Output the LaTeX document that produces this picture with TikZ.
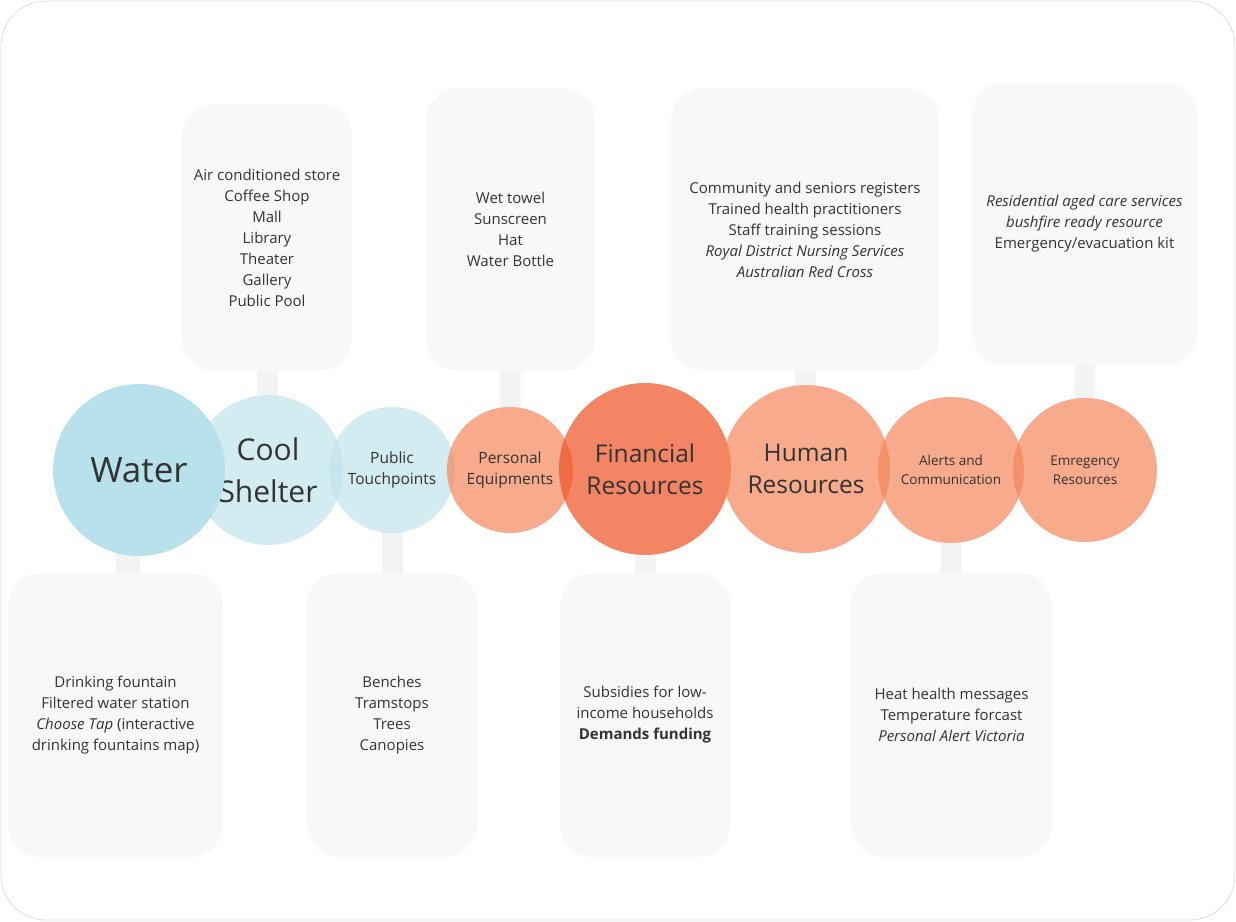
\documentclass[tikz,border=0pt]{standalone}
\usepackage{fontspec}
\setmainfont{Open Sans}
\usetikzlibrary{backgrounds}
\definecolor{txt}{HTML}{333333}
\definecolor{boxfill}{HTML}{F8F8F8}
\definecolor{stemcol}{HTML}{F2F4F4}
\definecolor{frame}{HTML}{DDDDDD}
\definecolor{waterc}{HTML}{B8E1EB}
\definecolor{bluec}{RGB}{192,228,236}
\definecolor{salmonc}{RGB}{245,135,92}
\definecolor{finc}{RGB}{239,82,36}
\tikzset{
  infobox/.style={fill=boxfill, rounded corners=32pt, inner sep=0pt, align=center, text=txt,
    font=\fontsize{15}{21}\selectfont},
  stem/.style={draw=stemcol, line width=21pt},
  bubble/.style={circle, inner sep=0pt, align=center, text=txt},
  bluebub/.style={bubble, fill=bluec, fill opacity=0.7, text opacity=1},
  salbub/.style={bubble, fill=salmonc, fill opacity=0.7, text opacity=1},
  finbub/.style={bubble, fill=finc, fill opacity=0.7, text opacity=1},
}
\begin{document}
\begin{tikzpicture}[x=1pt,y=-1pt]
\useasboundingbox (0,0) rectangle (1236,921);
\draw[frame, line width=0.8pt, rounded corners=45pt] (1,1) rectangle (1235,920);

% top boxes
\node[infobox, minimum width=170pt, minimum height=267pt] (b1) at (267,237.5)
  {Air conditioned store\\Coffee Shop\\Mall\\Library\\Theater\\Gallery\\Public Pool};
\node[infobox, minimum width=169pt, minimum height=283pt] (b2) at (510.5,229.5)
  {Wet towel\\Sunscreen\\Hat\\Water Bottle};
\node[infobox, minimum width=268pt, minimum height=283pt] (b3) at (805,229.5)
  {Community and seniors registers\\Trained health practitioners\\Staff training sessions\\\textit{Royal District Nursing Services}\\\textit{Australian Red Cross}};
\node[infobox, minimum width=225pt, minimum height=282pt] (b4) at (1084.5,224)
  {\textit{Residential aged care services}\\\textit{bushfire ready resource}\\Emergency/evacuation kit};
% bottom boxes
\node[infobox, minimum width=215pt, minimum height=284pt] (b5) at (115.5,715)
  {Drinking fountain\\Filtered water station\\\textit{Choose Tap} (interactive\\drinking fountains map)};
\node[infobox, minimum width=170pt, minimum height=284pt] (b6) at (392,715)
  {Benches\\Tramstops\\Trees\\Canopies};
\node[infobox, minimum width=170pt, minimum height=284pt] (b7) at (645,715)
  {Subsidies for low-\\income households\\\textbf{Demands funding}};
\node[infobox, minimum width=201pt, minimum height=284pt] (b8) at (951.5,715)
  {Heat health messages\\Temperature forcast\\\textit{Personal Alert Victoria}};

% bubbles
\node[bluebub, minimum size=150pt, font=\fontsize{30}{42}\selectfont] (cool) at (268,470) {Cool\\Shelter};
\node[bluebub, minimum size=126pt, font=\fontsize{15.5}{21}\selectfont] (pub) at (392,470) {Public\\Touchpoints};
\node[salbub, minimum size=126pt, font=\fontsize{15.5}{21}\selectfont] (pers) at (510,470) {Personal\\Equipments};
\node[finbub, minimum size=172pt, font=\fontsize{24.5}{32}\selectfont] (fin) at (645,469) {Financial\\Resources};
\node[salbub, minimum size=168pt, font=\fontsize{24.5}{32}\selectfont] (hum) at (806,469) {Human\\Resources};
\node[salbub, minimum size=146pt, font=\fontsize{13.5}{19}\selectfont] (alert) at (951,470) {Alerts and\\Communication};
\node[salbub, minimum size=144pt, font=\fontsize{13.5}{19}\selectfont] (emer) at (1085,470) {Emregency\\Resources};
\node[bubble, fill=waterc, minimum size=172pt, font=\fontsize{35}{40}\selectfont] (water) at (139,470) {Water};

\coordinate (ws) at (128,540);

% connectors
\begin{scope}[on background layer]
\draw[stem] (b1.center) -- (cool.center);
\draw[stem] (b2.center) -- (pers.center);
\draw[stem] (b3.center) -- (hum.center);
\draw[stem] (b4.center) -- (emer.center);
\draw[stem] (b6.center) -- (pub.center);
\draw[stem] (b7.center) -- (fin.center);
\draw[stem] (b8.center) -- (alert.center);
\draw[stem, line width=24pt, line cap=round] (ws) -- (ws |- b5.north);
% opaque white under the translucent bubbles so the stems do not show through
\fill[white] (cool.center) circle[radius=75pt];
\fill[white] (pub.center) circle[radius=63pt];
\fill[white] (pers.center) circle[radius=63pt];
\fill[white] (fin.center) circle[radius=86pt];
\fill[white] (hum.center) circle[radius=84pt];
\fill[white] (alert.center) circle[radius=73pt];
\fill[white] (emer.center) circle[radius=72pt];
\end{scope}
\end{tikzpicture}
\end{document}
